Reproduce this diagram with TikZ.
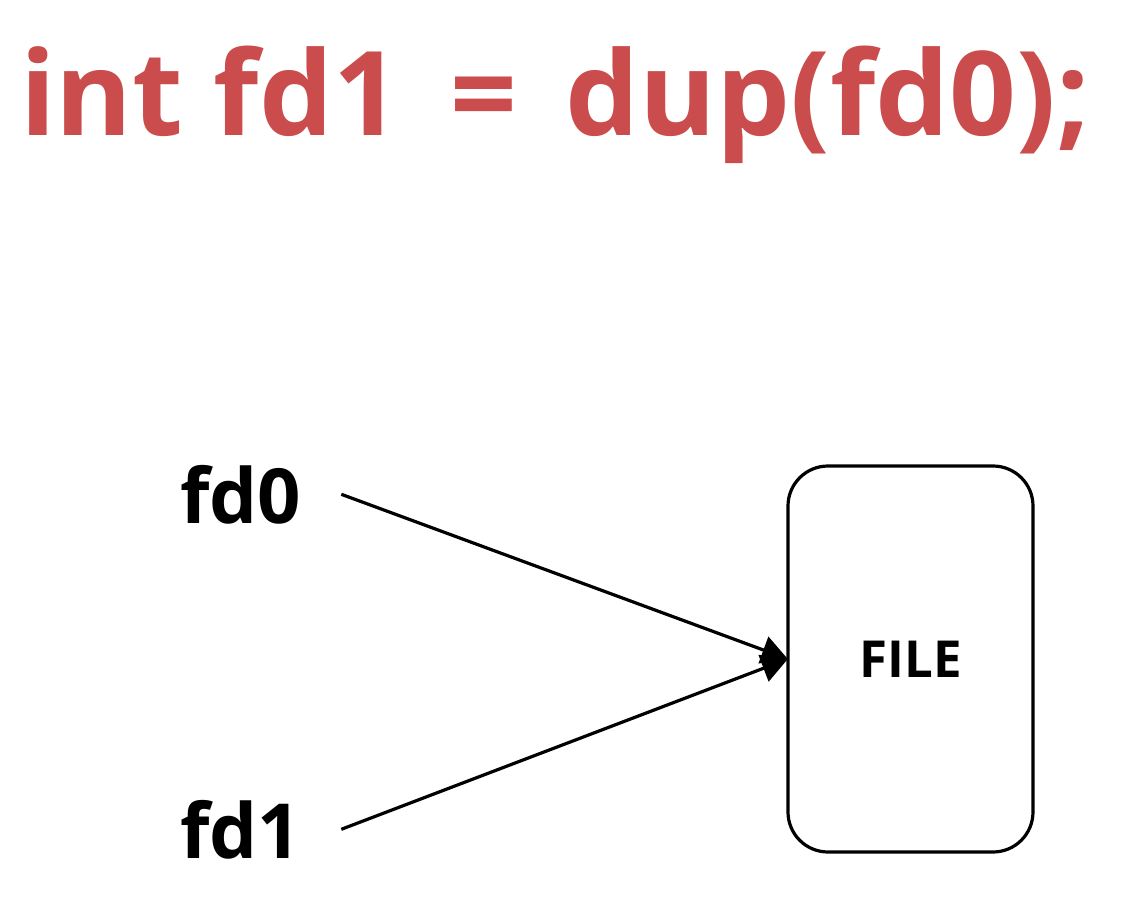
\documentclass[tikz,border=0pt]{standalone}
\usepackage{fontspec}
\setmainfont{Open Sans}
\usetikzlibrary{arrows.meta}
\definecolor{titlered}{RGB}{203,76,76}

\begin{document}
\begin{tikzpicture}[x=1pt,y=-1pt,
  lbl/.style={font=\fontsize{76}{86}\selectfont\bfseries,inner sep=0pt},
  link/.style={line width=3.2pt,-{Triangle[length=26pt,width=28pt]}}]
  \useasboundingbox (0,0) rectangle (1141,918);

  \node[anchor=base west,inner sep=0pt,text=titlered,
    font=\fontsize{117}{130}\selectfont\bfseries] (title) at (20,135)
    {int fd1\hspace{20pt} =\hspace{18pt} dup(fd0);};

  \node[lbl,anchor=base west] (fd0) at (180,523) {fd0};
  \node[lbl,anchor=base west] (fd1) at (180,858) {fd1};

  \draw[line width=3.2pt,rounded corners=40pt] (788,466) rectangle (1033,852);
  \node[font=\fontsize{51}{60}\selectfont\bfseries,minimum width=245pt,minimum height=386pt,inner sep=0pt] (file) at (910.5,659) {FILE};

  \draw[link] ([xshift=40pt]fd0.east) -- (file.west);
  \draw[link] ([xshift=40pt]fd1.east) -- (file.west);
\end{tikzpicture}
\end{document}
